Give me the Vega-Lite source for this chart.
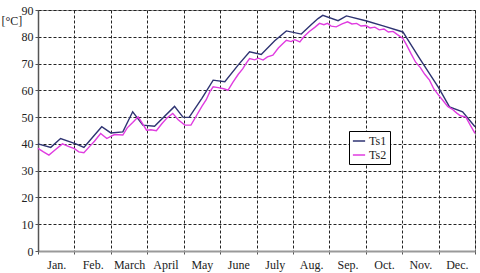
{
  "$schema": "https://vega.github.io/schema/vega-lite/v6.json",
  "width": 437,
  "height": 241,
  "autosize": {"type": "none"},
  "padding": {"left": 38, "top": 10, "right": 5, "bottom": 22},
  "background": "white",
  "config": {
    "font": "'Liberation Serif', 'DejaVu Serif', serif",
    "axis": {"labelFont": "'Liberation Serif', 'DejaVu Serif', serif", "titleFont": "'Liberation Serif', 'DejaVu Serif', serif"},
    "legend": {"labelFont": "'Liberation Serif', 'DejaVu Serif', serif", "titleFont": "'Liberation Serif', 'DejaVu Serif', serif"},
    "view": {"stroke": "#999", "strokeWidth": 1}
  },
  "datasets": {
    "ts1": [
      {"m": 0, "v": 40.0}, {"m": 0.35, "v": 38.7}, {"m": 0.62, "v": 42.0}, {"m": 1.04, "v": 40.0},
      {"m": 1.26, "v": 38.7}, {"m": 1.5, "v": 42.5}, {"m": 1.75, "v": 46.4}, {"m": 2.0, "v": 44.1},
      {"m": 2.33, "v": 44.5}, {"m": 2.6, "v": 52.0}, {"m": 2.88, "v": 47.0}, {"m": 3.2, "v": 46.6},
      {"m": 3.75, "v": 54.0}, {"m": 3.98, "v": 50.0}, {"m": 4.15, "v": 49.9}, {"m": 4.5, "v": 57.0},
      {"m": 4.81, "v": 63.8}, {"m": 5.13, "v": 63.2}, {"m": 5.5, "v": 69.5}, {"m": 5.81, "v": 74.4},
      {"m": 6.13, "v": 73.4}, {"m": 6.5, "v": 78.5}, {"m": 6.82, "v": 82.2}, {"m": 7.23, "v": 81.0},
      {"m": 7.5, "v": 84.5}, {"m": 7.69, "v": 86.8}, {"m": 7.82, "v": 88.0}, {"m": 8.24, "v": 86.0},
      {"m": 8.47, "v": 87.8}, {"m": 9.0, "v": 86.0}, {"m": 9.5, "v": 84.0}, {"m": 10.02, "v": 81.8},
      {"m": 10.5, "v": 71.5}, {"m": 11.0, "v": 61.0}, {"m": 11.3, "v": 53.8}, {"m": 11.66, "v": 52.0},
      {"m": 12.0, "v": 46.4}
    ],
    "ts2": [
      {"m": 0, "v": 38.3}, {"m": 0.15, "v": 37.0}, {"m": 0.3, "v": 35.8}, {"m": 0.45, "v": 37.5},
      {"m": 0.67, "v": 40.0}, {"m": 0.85, "v": 39.0}, {"m": 1.0, "v": 38.2}, {"m": 1.12, "v": 37.0},
      {"m": 1.26, "v": 36.7}, {"m": 1.4, "v": 38.8}, {"m": 1.55, "v": 41.0}, {"m": 1.72, "v": 43.9},
      {"m": 1.89, "v": 42.0}, {"m": 2.0, "v": 42.8}, {"m": 2.1, "v": 43.5}, {"m": 2.33, "v": 43.3},
      {"m": 2.45, "v": 46.0}, {"m": 2.6, "v": 48.0}, {"m": 2.75, "v": 50.1}, {"m": 2.85, "v": 48.0},
      {"m": 2.98, "v": 45.1}, {"m": 3.1, "v": 45.3}, {"m": 3.25, "v": 44.9}, {"m": 3.4, "v": 47.5},
      {"m": 3.55, "v": 49.8}, {"m": 3.7, "v": 51.4}, {"m": 3.85, "v": 49.0}, {"m": 4.03, "v": 47.0},
      {"m": 4.2, "v": 47.0}, {"m": 4.35, "v": 50.5}, {"m": 4.5, "v": 54.0}, {"m": 4.62, "v": 56.5},
      {"m": 4.72, "v": 59.5}, {"m": 4.81, "v": 61.3}, {"m": 4.95, "v": 61.0}, {"m": 5.1, "v": 60.6},
      {"m": 5.22, "v": 60.1}, {"m": 5.35, "v": 63.0}, {"m": 5.5, "v": 66.0}, {"m": 5.62, "v": 68.0},
      {"m": 5.72, "v": 70.2}, {"m": 5.81, "v": 71.9}, {"m": 5.95, "v": 71.4}, {"m": 6.05, "v": 72.0},
      {"m": 6.18, "v": 71.3}, {"m": 6.3, "v": 72.5}, {"m": 6.45, "v": 73.1}, {"m": 6.6, "v": 75.8},
      {"m": 6.72, "v": 77.4}, {"m": 6.82, "v": 78.7}, {"m": 6.95, "v": 78.2}, {"m": 7.05, "v": 78.9},
      {"m": 7.19, "v": 78.1}, {"m": 7.3, "v": 80.0}, {"m": 7.45, "v": 82.0}, {"m": 7.6, "v": 83.5},
      {"m": 7.73, "v": 85.0}, {"m": 7.85, "v": 84.5}, {"m": 7.95, "v": 85.0}, {"m": 8.05, "v": 84.0},
      {"m": 8.19, "v": 83.7}, {"m": 8.35, "v": 84.8}, {"m": 8.5, "v": 85.6}, {"m": 8.62, "v": 84.8},
      {"m": 8.75, "v": 85.0}, {"m": 8.87, "v": 84.0}, {"m": 9.0, "v": 84.2}, {"m": 9.12, "v": 83.3},
      {"m": 9.25, "v": 83.6}, {"m": 9.37, "v": 82.6}, {"m": 9.5, "v": 82.9}, {"m": 9.62, "v": 81.8},
      {"m": 9.75, "v": 82.0}, {"m": 9.87, "v": 80.8}, {"m": 10.02, "v": 79.4}, {"m": 10.12, "v": 77.0},
      {"m": 10.25, "v": 73.5}, {"m": 10.37, "v": 70.5}, {"m": 10.5, "v": 68.5}, {"m": 10.62, "v": 66.0},
      {"m": 10.75, "v": 63.8}, {"m": 10.87, "v": 60.5}, {"m": 11.0, "v": 58.2}, {"m": 11.12, "v": 56.2},
      {"m": 11.25, "v": 54.0}, {"m": 11.37, "v": 53.0}, {"m": 11.5, "v": 51.5}, {"m": 11.6, "v": 50.5},
      {"m": 11.75, "v": 50.0}, {"m": 11.87, "v": 47.0}, {"m": 12.0, "v": 43.9}
    ]
  },
  "layer": [
    {
      "data": {"name": "ts1"},
      "transform": [{"calculate": "'Ts1'", "as": "series"}],
      "mark": {"type": "line", "strokeWidth": 1.4},
      "encoding": {
        "x": {"field": "m", "type": "quantitative"},
        "y": {"field": "v", "type": "quantitative"},
        "color": {"field": "series", "type": "nominal"}
      }
    },
    {
      "data": {"name": "ts2"},
      "transform": [{"calculate": "'Ts2'", "as": "series"}],
      "mark": {"type": "line", "strokeWidth": 1.4},
      "encoding": {
        "x": {"field": "m", "type": "quantitative"},
        "y": {"field": "v", "type": "quantitative"},
        "color": {"field": "series", "type": "nominal"}
      }
    }
  ],
  "encoding": {
    "x": {
      "field": "m",
      "type": "quantitative",
      "scale": {"domain": [0, 12], "nice": false, "zero": false},
      "axis": {
        "title": null,
        "values": [0, 0.5, 1, 1.5, 2, 2.5, 3, 3.5, 4, 4.5, 5, 5.5, 6, 6.5, 7, 7.5, 8, 8.5, 9, 9.5, 10, 10.5, 11, 11.5, 12],
        "labelExpr": "datum.value % 1 == 0.5 ? ['Jan.','Feb.','March','April','May','June','July','Aug.','Sep.','Oct.','Nov.','Dec.'][floor(datum.value)] : ''",
        "labelOverlap": false,
        "labelFlush": false,
        "labelBound": false,
        "labelFontSize": 12,
        "labelColor": "#222",
        "labelPadding": 5,
        "grid": true,
        "gridDash": [3, 2],
        "gridColor": "#222",
        "gridWidth": 1,
        "gridOpacity": {"condition": {"test": "datum.value % 1 != 0", "value": 0}, "value": 1},
        "tickOpacity": {"condition": {"test": "datum.value % 1 != 0", "value": 0}, "value": 1},
        "tickSize": 3,
        "tickColor": "#555",
        "domainColor": "#999",
        "domainWidth": 2
      }
    },
    "y": {
      "field": "v",
      "type": "quantitative",
      "scale": {"domain": [0, 90], "nice": false},
      "axis": {
        "title": "[°C]",
        "titleAngle": 0,
        "titleX": -37,
        "titleY": 10,
        "titleAlign": "left",
        "titleBaseline": "middle",
        "titleFontWeight": "normal",
        "titleFontSize": 12,
        "titleColor": "#222",
        "values": [0, 10, 20, 30, 40, 50, 60, 70, 80, 90],
        "labelFontSize": 12,
        "labelColor": "#222",
        "labelPadding": 2,
        "tickSize": 3,
        "tickColor": "#555",
        "grid": true,
        "gridDash": [3, 2],
        "gridColor": "#222",
        "gridWidth": 1,
        "domainColor": "#555",
        "domainWidth": 1.5
      }
    },
    "color": {
      "field": "series",
      "type": "nominal",
      "scale": {"domain": ["Ts1", "Ts2"], "range": ["#2E3372", "#E03CE0"]},
      "legend": {
        "title": null,
        "orient": "none",
        "legendX": 311,
        "legendY": 121,
        "strokeColor": "#000",
        "fillColor": "white",
        "padding": 3,
        "rowPadding": 1,
        "symbolType": "stroke",
        "symbolSize": 150,
        "symbolStrokeWidth": 1.5,
        "labelFontSize": 12,
        "labelColor": "#222",
        "labelOffset": 3
      }
    }
  }
}
